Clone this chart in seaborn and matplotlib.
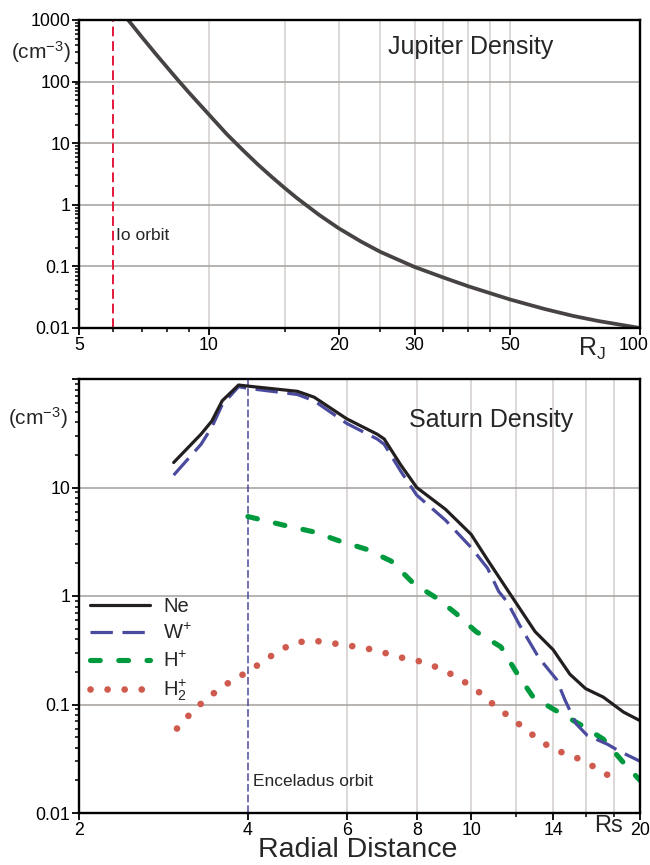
import matplotlib
matplotlib.use("Agg")
import matplotlib.pyplot as plt
import matplotlib.transforms as mtransforms
import seaborn as sns
from matplotlib.ticker import FixedLocator, FixedFormatter, NullFormatter, LogLocator

# ---------------- data ----------------
# Jupiter density vs radial distance (R_J)
jup_r = [6.5, 7, 7.5, 8, 8.5, 9, 10, 11, 12, 13, 14, 15, 16, 18, 20, 22.5, 25,
         30, 35, 40, 50, 60, 70, 80, 100]
jup_n = [1000, 525, 292, 171, 104, 66, 29.3, 14.1, 7.7, 4.5, 2.83, 1.87, 1.29, 0.69, 0.417, 0.255, 0.172,
         0.098, 0.066, 0.0475, 0.029, 0.0204, 0.0157, 0.013, 0.01]

# Saturn densities vs radial distance (Rs)
ne_r = [2.95, 3.3, 3.45, 3.6, 3.85, 4.0, 4.9, 5.25, 6.0, 6.8, 7.0, 7.5, 8.0, 9.0, 10.0, 10.7,
        11.8, 13.0, 14.0, 15.0, 16.0, 17.2, 18.7, 20.0]
ne_n = [17, 31, 41, 63, 88, 86, 77, 68, 43, 31, 28, 16, 10, 6.3, 3.7, 2.15,
        1.0, 0.47, 0.32, 0.19, 0.14, 0.117, 0.085, 0.071]

wp_r = [2.95, 3.3, 3.45, 3.6, 3.85, 4.0, 4.9, 5.25, 6.0, 6.8, 7.0, 7.5, 8.0, 9.0, 10.0, 10.7,
        11.2, 11.6, 12.2, 13.2, 14.2, 14.7, 15.4, 16.1, 17.5, 18.4, 20.0]
wp_n = [13, 25, 36, 58, 85, 82, 72, 63, 39, 28, 25, 14, 8.5, 5.0, 2.8, 1.8,
        1.1, 0.88, 0.54, 0.27, 0.17, 0.11, 0.066, 0.052, 0.043, 0.037, 0.03]

hp_r = [4.0, 4.63, 5.24, 5.84, 6.5, 7.2, 7.9, 8.7, 9.4, 10.2, 11.3, 12.1, 12.9, 14.0, 15.6, 17.2, 18.7, 20.0]
hp_n = [5.4, 4.5, 3.9, 3.2, 2.7, 2.1, 1.3, 0.95, 0.69, 0.47, 0.34, 0.19, 0.117, 0.091, 0.066, 0.048, 0.029, 0.02]

h2_r = [2.99, 3.15, 3.32, 3.53, 3.75, 4.0, 4.26, 4.53, 4.84, 5.2, 5.6, 6.03, 6.5, 7.0, 7.53, 8.1,
        8.7, 9.3, 9.9, 10.5, 11.1, 11.8, 12.5, 13.3, 14.1, 15.1, 16.3, 17.3, 18.6]
h2_n = [0.06, 0.081, 0.105, 0.135, 0.167, 0.2, 0.25, 0.31, 0.37, 0.39, 0.37, 0.35, 0.33, 0.3, 0.27, 0.25,
        0.22, 0.186, 0.153, 0.122, 0.094, 0.075, 0.059, 0.046, 0.038, 0.034, 0.028, 0.023, 0.02]

series_labels = ["Ne", r"W$^{\mathregular{+}}$", r"H$^{\mathregular{+}}$", r"H$_{\mathregular{2}}^{\mathregular{+}}$"]

# ticks
jup_xticks = [5, 10, 20, 30, 50, 100]
jup_xticklabels = ["5", "10", "20", "30", "50", "100"]
jup_xminor = [6, 7, 8, 9, 15, 25, 35, 40, 45]
jup_vgrid = [10, 15, 20, 25, 30, 35, 40, 45, 50]
jup_yticks = [0.01, 0.1, 1, 10, 100, 1000]
jup_yticklabels = ["0.01", "0.1", "1", "10", "100", "1000"]
io_orbit = 6

sat_xticks = [2, 4, 6, 8, 10, 14, 20]
sat_xticklabels = ["2", "4", "6", "8", "10", "14", "20"]
sat_xminor = [12, 16, 18]
sat_vgrid = [6, 8, 10, 12, 14, 16, 18]
sat_yticks = [0.01, 0.1, 1, 10, 100]
sat_yticklabels = ["0.01", "0.1", "1", "10", ""]
enceladus_orbit = 4

# ---------------- style ----------------
sns.set_theme(style="white")
plt.rcParams['font.family'] = ['Liberation Sans', 'DejaVu Sans']
plt.rcParams['mathtext.fontset'] = 'custom'
plt.rcParams['mathtext.rm'] = 'Liberation Sans'
plt.rcParams['mathtext.it'] = 'Liberation Sans'
plt.rcParams['mathtext.bf'] = 'Liberation Sans'

W, H = 650, 865
fig = plt.figure(figsize=(W / 100, H / 100), dpi=100)
fig.patch.set_facecolor("white")

def fx(px):
    return px / W

def fy(py):
    return 1 - py / H

ax1 = fig.add_axes([fx(79), fy(328), fx(640) - fx(79), fy(20) - fy(328)])
ax2 = fig.add_axes([fx(79), fy(813), fx(640) - fx(79), fy(379) - fy(813)])

HGRID = "#a9a5a3"
VGRID = "#dad6d6"

def style_axes(ax):
    ax.set_facecolor("white")
    for s in ax.spines.values():
        s.set_color("black")
        s.set_linewidth(1.7)
        s.set_zorder(10)
    ax.tick_params(which="both", direction="out", left=True, bottom=True,
                   right=False, top=False, color="black", labelsize=12.8,
                   labelcolor="black", pad=1.2)
    ax.tick_params(which="major", length=5, width=1.3)
    ax.tick_params(which="minor", length=3, width=1.1)
    ax.grid(False)

# ---------------- top: Jupiter ----------------
ax1.set_xscale("log")
ax1.set_yscale("log")
for v in jup_vgrid:
    ax1.axvline(v, color=VGRID, lw=1.3, zorder=0)
for v in jup_yticks[1:-1]:
    ax1.axhline(v, color=HGRID, lw=1.2, zorder=0)
ax1.axvline(io_orbit, color="#e3173a", lw=1.4, ls=(0, (5, 2.5)), zorder=2)
sns.lineplot(x=jup_r, y=jup_n, ax=ax1, color="#474343", lw=2.7, estimator=None, sort=False, zorder=3)
ax1.set_xlim(5, 100)
ax1.set_ylim(0.01, 1000)
ax1.xaxis.set_major_locator(FixedLocator(jup_xticks))
ax1.xaxis.set_major_formatter(FixedFormatter(jup_xticklabels))
ax1.xaxis.set_minor_locator(FixedLocator(jup_xminor))
ax1.xaxis.set_minor_formatter(NullFormatter())
ax1.yaxis.set_major_locator(FixedLocator(jup_yticks))
ax1.yaxis.set_major_formatter(FixedFormatter(jup_yticklabels))
ax1.yaxis.set_minor_locator(LogLocator(base=10, subs=range(2, 10)))
ax1.yaxis.set_minor_formatter(NullFormatter())
style_axes(ax1)
ax1.set_xlabel("")
ax1.set_ylabel("")

# ---------------- bottom: Saturn ----------------
ax2.set_xscale("log")
ax2.set_yscale("log")
for v in sat_vgrid:
    ax2.axvline(v, color=VGRID, lw=1.3, zorder=0)
for v in sat_yticks[1:-1]:
    ax2.axhline(v, color=HGRID, lw=1.2, zorder=0)
ax2.axvline(enceladus_orbit, color="#4a4a9e", lw=1.1, ls=(0, (5, 2)), zorder=2)

sns.lineplot(x=h2_r, y=h2_n, ax=ax2, color="#cf5a4e", lw=4.8, ls=(0, (0.01, 2.55)),
             dash_capstyle="round", estimator=None, sort=False, label=series_labels[3], zorder=3)
sns.lineplot(x=hp_r, y=hp_n, ax=ax2, color="#009a3e", lw=3.7, ls=(0, (1.9, 3.6)),
             dash_capstyle="round", estimator=None, sort=False, label=series_labels[2], zorder=4)
sns.lineplot(x=wp_r, y=wp_n, ax=ax2, color="#4a4a9e", lw=2.3, ls=(0, (7, 3)),
             estimator=None, sort=False, label=series_labels[1], zorder=5)
sns.lineplot(x=ne_r, y=ne_n, ax=ax2, color="#231f20", lw=2.3,
             estimator=None, sort=False, label=series_labels[0], zorder=6)
ax2.set_xlim(2, 20)
ax2.set_ylim(0.01, 100)
ax2.xaxis.set_major_locator(FixedLocator(sat_xticks))
ax2.xaxis.set_major_formatter(FixedFormatter(sat_xticklabels))
ax2.xaxis.set_minor_locator(FixedLocator(sat_xminor))
ax2.xaxis.set_minor_formatter(NullFormatter())
ax2.yaxis.set_major_locator(FixedLocator(sat_yticks))
ax2.yaxis.set_major_formatter(FixedFormatter(sat_yticklabels))
ax2.yaxis.set_minor_locator(LogLocator(base=10, subs=range(2, 10)))
ax2.yaxis.set_minor_formatter(NullFormatter())
style_axes(ax2)
ax2.set_xlabel("")
ax2.set_ylabel("")

handles, labels = ax2.get_legend_handles_labels()
order = [labels.index(l) for l in series_labels]
leg = ax2.legend([handles[i] for i in order], [labels[i] for i in order],
                 loc="upper left", bbox_to_anchor=(0.019, 0.497), frameon=False,
                 fontsize=14.5, handlelength=3.0, handletextpad=0.65, labelspacing=0.35,
                 borderaxespad=0, borderpad=0)

# nudge the "100" tick label so it stays inside the figure
fig.canvas.draw()
shift = mtransforms.ScaledTranslation(-6 / 100, 0, fig.dpi_scale_trans)
for lab in ax1.get_xticklabels():
    if lab.get_text() == "100":
        lab.set_transform(lab.get_transform() + shift)

# ---------------- texts ----------------
unit = r"(cm$^{\mathregular{-3}}$)"
fig.text(fx(41), fy(52), unit, ha="center", va="center", fontsize=15)
fig.text(fx(38), fy(418), unit, ha="center", va="center", fontsize=15)
fig.text(fx(471), fy(47), "Jupiter Density", ha="center", va="center", fontsize=18)
fig.text(fx(491), fy(420), "Saturn Density", ha="center", va="center", fontsize=18)
fig.text(fx(116), fy(235), "Io orbit", ha="left", va="center", fontsize=12.5)
fig.text(fx(253), fy(781), "Enceladus orbit", ha="left", va="center", fontsize=12.5)
fig.text(fx(592), fy(349), r"R$_{\mathregular{J}}$", ha="center", va="center", fontsize=18)
fig.text(fx(609), fy(826), "Rs", ha="center", va="center", fontsize=17)
fig.text(fx(358), fy(850), "Radial Distance", ha="center", va="center", fontsize=20.5)

fig.savefig("out.png", dpi=100, facecolor="white")
